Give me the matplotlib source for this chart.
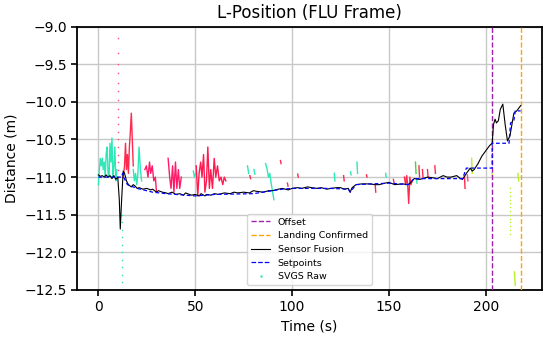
import matplotlib
matplotlib.use("Agg")
import matplotlib.pyplot as plt
from matplotlib.lines import Line2D

# ---------------- data ----------------
fusion_t = [0, 1, 2, 3, 4, 5, 6, 7, 8, 9, 10, 10.8, 11.3, 12, 12.8, 13.5, 14.5, 15.5, 17, 18, 19, 20, 21, 23,
            25, 27, 28, 30, 31, 33, 35, 36, 38, 40, 42, 44, 45, 48, 50, 52, 53, 55, 56, 58, 60, 62, 65, 68,
            70, 72, 75, 78, 80, 82, 85, 88, 90, 93, 95, 98, 100, 103, 105, 108, 110, 113, 115, 118, 120, 123,
            125, 127, 129, 130, 131, 133, 136, 140, 143, 145, 148, 150, 153, 157, 160, 161, 163, 166, 170,
            173, 175, 178, 180, 182, 185, 187, 188, 190, 192, 193, 194, 196, 198, 200, 202, 203.3, 204,
            204.8, 205.5, 206.5, 207.5, 208.8, 210, 211.2, 212.5, 213.5, 214.5, 216, 218]
fusion_y = [-10.97, -10.99, -10.98, -11.0, -10.97, -11.0, -10.98, -11.02, -10.98, -11.03, -11.0, -11.3,
            -11.69, -11.3, -10.92, -10.95, -11.05, -11.1, -11.13, -11.1, -11.12, -11.15, -11.14, -11.16,
            -11.15, -11.17, -11.16, -11.2, -11.18, -11.2, -11.21, -11.22, -11.2, -11.23, -11.22, -11.24,
            -11.21, -11.24, -11.23, -11.25, -11.22, -11.25, -11.23, -11.24, -11.22, -11.23, -11.21, -11.22,
            -11.2, -11.21, -11.2, -11.21, -11.18, -11.19, -11.2, -11.18, -11.18, -11.16, -11.15, -11.17,
            -11.15, -11.14, -11.15, -11.13, -11.14, -11.15, -11.14, -11.16, -11.15, -11.14, -11.14, -11.16,
            -11.15, -11.2, -11.14, -11.1, -11.09, -11.09, -11.1, -11.1, -11.08, -11.07, -11.1, -11.09,
            -11.1, -11.08, -11.02, -11.03, -11.0, -11.01, -11.02, -10.98, -11.0, -11.0, -10.98, -11.02,
            -11.03, -10.95, -10.88, -10.92, -10.9, -10.82, -10.72, -10.65, -10.58, -10.55, -10.3, -10.23,
            -10.28, -10.25, -10.1, -10.03, -10.3, -10.52, -10.45, -10.3, -10.15, -10.12, -10.05]

setp_t = [0, 12, 12.5, 13, 15, 17, 20, 28, 35, 40, 50, 55, 60, 80, 85, 90, 95, 100, 120, 129, 130, 133,
          150, 160, 163, 188, 190, 203.3, 203.3, 212, 212.8, 214.5, 215.2, 218]
setp_y = [-11.0, -11.0, -10.95, -11.0, -11.1, -11.12, -11.15, -11.2, -11.22, -11.23, -11.25, -11.24,
          -11.23, -11.22, -11.2, -11.18, -11.16, -11.15, -11.15, -11.16, -11.2, -11.1, -11.08, -11.1,
          -11.02, -11.02, -10.88, -10.88, -10.55, -10.55, -10.28, -10.25, -10.12, -10.12]

offset_t = 203.4
landing_t = 218.0

# SVGS raw segments (time, value, colour)
svgs_seg_t = [
    [0, 0.5, 1, 1.5, 2, 2.5, 3, 3.5, 4, 4.5, 5, 5.5, 6, 6.5, 7, 7.5, 8, 8.5, 9, 9.5],
    [12.8, 13.5, 14, 14.5, 15, 15.5, 16, 16.5, 17, 17.5, 18],
    [18, 18.6, 19.2, 19.8, 20.4, 21, 21.7, 22.3],
    [24, 24.8, 25.6, 26.4, 27, 27.8, 28.6, 29.4, 30],
    [36, 36.8, 37.5, 38.3, 39, 39.8, 40.5, 41.3, 42, 42.8],
    [49, 49.6, 50.2],
    [50.5, 51.3, 52, 52.8, 53.5, 54.3, 55, 55.8, 56.5, 57.3, 58, 58.9, 59.8, 60.6, 61.5, 62.4, 63.3,
     64.2, 65, 65.8],
    [77, 77.6], [78.2, 78.6], [80.3, 80.8],
    [86.3, 87, 87.8, 88.5, 89.3, 90, 90.6],
    [94, 94.3], [97.6, 97.9], [102.9, 103.2],
    [121.8, 122.1], [126.6, 126.9], [130.2, 130.5], [133.5, 133.8], [138.4, 138.7],
    [142.9, 143.2], [148.3, 148.6], [152.3, 152.6],
    [158, 158.6, 159.2, 159.8, 160.2, 160.8, 161.4, 162],
    [163.7, 164.0], [164.3, 164.5], [165.5, 165.8], [167.3, 167.6], [169.9, 170.2], [173.7, 174.0],
    [189.0, 189.3], [190.5, 190.8],
    [192.7, 193.0], [203.2, 203.4], [214.8, 215.2], [216.6, 217.0],
]
svgs_seg_y = [
    [-11.1, -10.9, -10.75, -10.85, -10.75, -10.9, -10.8, -11.0, -10.7, -10.6, -10.95, -11.0, -10.55,
     -10.8, -10.48, -11.0, -10.85, -10.6, -11.05, -10.9],
    [-11.0, -10.85, -10.55, -10.9, -10.7, -10.95, -10.6, -10.4, -10.15, -10.5, -10.85],
    [-10.9, -11.05, -10.95, -11.1, -10.95, -10.6, -10.9, -11.05],
    [-10.9, -10.85, -11.0, -10.8, -10.95, -10.85, -11.05, -11.0, -11.2],
    [-10.75, -11.0, -11.15, -10.85, -11.2, -10.8, -11.15, -10.9, -11.15, -11.0],
    [-10.92, -11.0, -10.95],
    [-10.85, -11.25, -10.95, -10.8, -11.0, -10.7, -11.2, -11.05, -10.6, -11.15, -10.9, -11.15,
     -10.75, -11.0, -10.85, -11.05, -11.0, -11.1, -11.0, -11.05],
    [-10.85, -10.95], [-10.98, -11.02], [-10.9, -10.96],
    [-10.82, -10.88, -11.0, -10.95, -11.1, -11.2, -11.3],
    [-10.78, -10.82], [-11.08, -11.12], [-10.96, -11.0],
    [-10.95, -11.05], [-10.98, -11.05], [-10.93, -10.97], [-10.8, -10.95], [-10.97, -11.0],
    [-11.1, -11.2], [-10.95, -11.0], [-11.03, -11.07],
    [-11.0, -11.1, -10.98, -11.15, -11.35, -11.0, -11.1, -11.05],
    [-10.8, -10.95], [-11.02, -11.08], [-10.85, -11.0], [-10.9, -11.0], [-10.9, -11.0], [-10.85, -10.95],
    [-11.0, -11.15], [-10.97, -11.05],
    [-10.75, -10.95], [-10.95, -11.0], [-12.26, -12.44], [-10.95, -11.05],
]
svgs_seg_c = (["#2ee8b8", "#ff2a50", "#2ee8b8", "#ff1a6a", "#ff1a6a", "#2ee8b8", "#ff1a50",
               "#2ee8b8", "#ff2a50", "#2ee8b8", "#2ee8b8", "#ff2a50", "#ff2a50", "#ff2a50",
               "#2ee8b8", "#ff2a50", "#2ee8b8", "#2ee8b8", "#ff2a50", "#ff2a50", "#2ee8b8", "#ff2a50",
               "#ff2a50", "#33dd44", "#2ee8b8", "#ff2a50", "#ff2a50", "#ff2a50", "#ff2a50",
               "#ff2a50", "#ff4a90", "#b8f030", "#b8f030", "#b8f030", "#b8f030"])

# sparse dotted SVGS samples
dots_pink_t = [10.3] * 17
dots_pink_y = [-9.15, -9.35, -9.5, -9.62, -9.75, -9.85, -9.98, -10.1, -10.2, -10.3, -10.4, -10.5,
               -10.6, -10.7, -10.8, -10.9, -11.0]
dots_cyan_t = [12.4] * 10
dots_cyan_y = [-11.5, -11.6, -11.7, -11.8, -11.9, -12.0, -12.1, -12.2, -12.3, -12.4]
dots_lime_t = [212.7] * 13
dots_lime_y = [-11.15, -11.2, -11.25, -11.3, -11.35, -11.4, -11.45, -11.5, -11.55, -11.6, -11.65,
               -11.7, -11.75]

# ---------------- plot ----------------
plt.rcParams['font.family'] = ['DejaVu Sans']
fig, ax = plt.subplots(figsize=(5.5, 3.37), dpi=100)
fig.subplots_adjust(left=0.1405, right=0.985, top=0.921, bottom=0.1395)

for ts, ys, c in zip(svgs_seg_t, svgs_seg_y, svgs_seg_c):
    ax.plot(ts, ys, color=c, lw=1.0, zorder=2)
ax.scatter(dots_pink_t, dots_pink_y, s=1.2, color="#ff4a7a", zorder=2, linewidths=0)
ax.scatter(dots_cyan_t, dots_cyan_y, s=1.2, color="#2ee8b8", zorder=2, linewidths=0)
ax.scatter(dots_lime_t, dots_lime_y, s=1.2, color="#b8f030", zorder=2, linewidths=0)

ax.axvline(offset_t, color="#a020b0", ls="--", lw=1.0, zorder=3)
ax.axvline(landing_t, color="orange", ls="--", lw=1.0, zorder=3)
ax.plot(fusion_t, fusion_y, color="black", lw=0.8, zorder=4)
ax.plot(setp_t, setp_y, color="blue", ls="--", lw=0.9, zorder=4, dashes=(3, 2))

ax.set_ylim(-12.5, -9.0)
ax.set_xlim(-10.9, 228.9)
ax.set_xticks([0, 50, 100, 150, 200])
ax.set_yticks([-12.5, -12.0, -11.5, -11.0, -10.5, -10.0, -9.5, -9.0])
ax.grid(True, color="#c8c8c8", lw=1.0)
ax.set_axisbelow(True)
for sp in ax.spines.values():
    sp.set_linewidth(1.3)
ax.tick_params(labelsize=10, width=1.2, length=4)
ax.set_title("L-Position (FLU Frame)", fontsize=12)
ax.set_xlabel("Time (s)", fontsize=10)
ax.set_ylabel("Distance (m)", fontsize=10)

handles = [
    Line2D([], [], color="#a020b0", ls="--", lw=1.0),
    Line2D([], [], color="orange", ls="--", lw=1.0),
    Line2D([], [], color="black", lw=0.8),
    Line2D([], [], color="blue", ls="--", lw=0.9),
    Line2D([], [], color="#2ee8b8", ls="none", marker=".", markersize=1.5),
]
labels = ["Offset", "Landing Confirmed", "Sensor Fusion", "Setpoints", "SVGS Raw"]
ax.legend(handles, labels, loc="lower center", fontsize=6.8, framealpha=0.8)

fig.savefig("out.png", dpi=100)
